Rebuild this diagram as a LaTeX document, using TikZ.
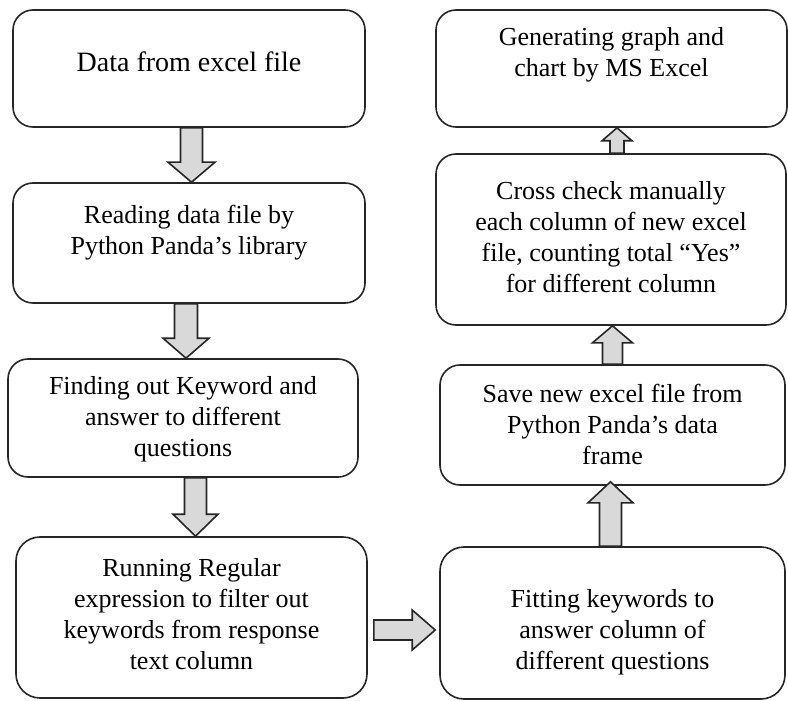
\documentclass[tikz,border=0pt]{standalone}
\usepackage{fontspec}
\setmainfont{Liberation Serif}
\usetikzlibrary{calc,positioning}
\definecolor{arrowgray}{RGB}{217,217,217}
\tikzset{stepbox/.style={rectangle,rounded corners=10pt,draw=black!85,line width=0.8pt,fill=white,inner sep=0mm}}
\tikzset{steptext/.style={align=center,font=\fontsize{13}{15.5}\selectfont,inner sep=0mm}}
\tikzset{blockarrow/.style={draw=black!85,line width=0.8pt,fill=arrowgray,line join=miter}}
% block arrow: from, to, half shaft, half head, head length
\newcommand{\flowarrow}[5]{%
  \path ($(#2)!#5!(#1)$) coordinate (hb);
  \draw[blockarrow] ($(#1)!#3!90:(#2)$) -- ($(hb)!#3!90:(#2)$) -- ($(hb)!#4!90:(#2)$)
    -- (#2) -- ($(hb)!#4!-90:(#2)$) -- ($(hb)!#3!-90:(#2)$) -- ($(#1)!#3!-90:(#2)$) -- cycle;}

\begin{document}
\begin{tikzpicture}[x=0.5pt,y=-0.5pt]
    \useasboundingbox (0,0) rectangle (788,701);

    % left column
    \node[stepbox,minimum width=176pt,minimum height=58.5pt] (b1) at (189,68.5) {};
    \node[stepbox,minimum width=176pt,minimum height=60pt]   (b2) at (189,243) {};
    \node[stepbox,minimum width=175pt,minimum height=59pt]   (b3) at (183,418) {};
    \node[stepbox,minimum width=175.5pt,minimum height=80.5pt,rounded corners=12pt] (b4) at (191.5,617.5) {};
    % right column
    \node[stepbox,minimum width=172.5pt,minimum height=76pt,rounded corners=12pt] (b5) at (612.5,623) {};
    \node[stepbox,minimum width=172.5pt,minimum height=60pt] (b6) at (612.5,425) {};
    \node[stepbox,minimum width=175pt,minimum height=85.5pt] (b7) at (611,239.5) {};
    \node[stepbox,minimum width=175.5pt,minimum height=58.5pt] (b8) at (611.5,68.5) {};

    \node[steptext,font=\fontsize{14}{15.5}\selectfont] (t1) at (189,62) {Data from excel file};
    \node[steptext] (t2) at (189,233) {Reading data file by\\Python Panda’s library};
    \node[steptext] (t3) at (183,419) {Finding out Keyword and\\answer to different\\questions};
    \node[steptext] (t4) at (191.5,614) {Running Regular\\expression to filter out\\keywords from response\\text column};
    \node[steptext] (t5) at (612.5,632) {Fitting keywords to\\answer column of\\different questions};
    \node[steptext] (t6) at (612.5,424) {Save new excel file from\\Python Panda’s data\\frame};
    \node[steptext] (t7) at (611,237) {Cross check manually\\each column of new excel\\file, counting total ``Yes''\\for different column};
    \node[steptext] (t8) at (611.5,55) {Generating graph and\\chart by MS Excel};

    \coordinate (a1s) at ([xshift=1.25pt]b1.south);
    \coordinate (a1e) at (b2.north -| a1s);
    \coordinate (a2s) at ([xshift=-1.5pt]b2.south);
    \coordinate (a2e) at (b3.north -| a2s);
    \coordinate (a3s) at ([xshift=6.25pt]b3.south);
    \coordinate (a3e) at (b4.north -| a3s);
    \coordinate (a4s) at ([xshift=3pt,yshift=-6.25pt]b4.east);
    \coordinate (a4e) at ($(b5.west |- a4s)+(-4,0)$);
    \coordinate (a5s) at ([xshift=-1pt]b5.north);
    \coordinate (a5e) at ($(b6.south -| a5s)+(0,-4)$);
    \coordinate (a6s) at (b6.north);
    \coordinate (a6e) at (b7.south -| a6s);
    \coordinate (a7s) at ([xshift=3pt]b7.north);
    \coordinate (a7e) at (b8.south -| a7s);

    \flowarrow{a1s}{a1e}{5.5pt}{11.75pt}{10pt}
    \flowarrow{a2s}{a2e}{5.75pt}{11.5pt}{10pt}
    \flowarrow{a3s}{a3e}{5.5pt}{11.25pt}{11pt}
    \flowarrow{a4s}{a4e}{5pt}{10pt}{11.5pt}
    \flowarrow{a5s}{a5e}{5.5pt}{11.25pt}{10.5pt}
    \flowarrow{a6s}{a6e}{5pt}{10pt}{8.5pt}
    \flowarrow{a7s}{a7e}{3.5pt}{7.5pt}{6.5pt}
\end{tikzpicture}
\end{document}
